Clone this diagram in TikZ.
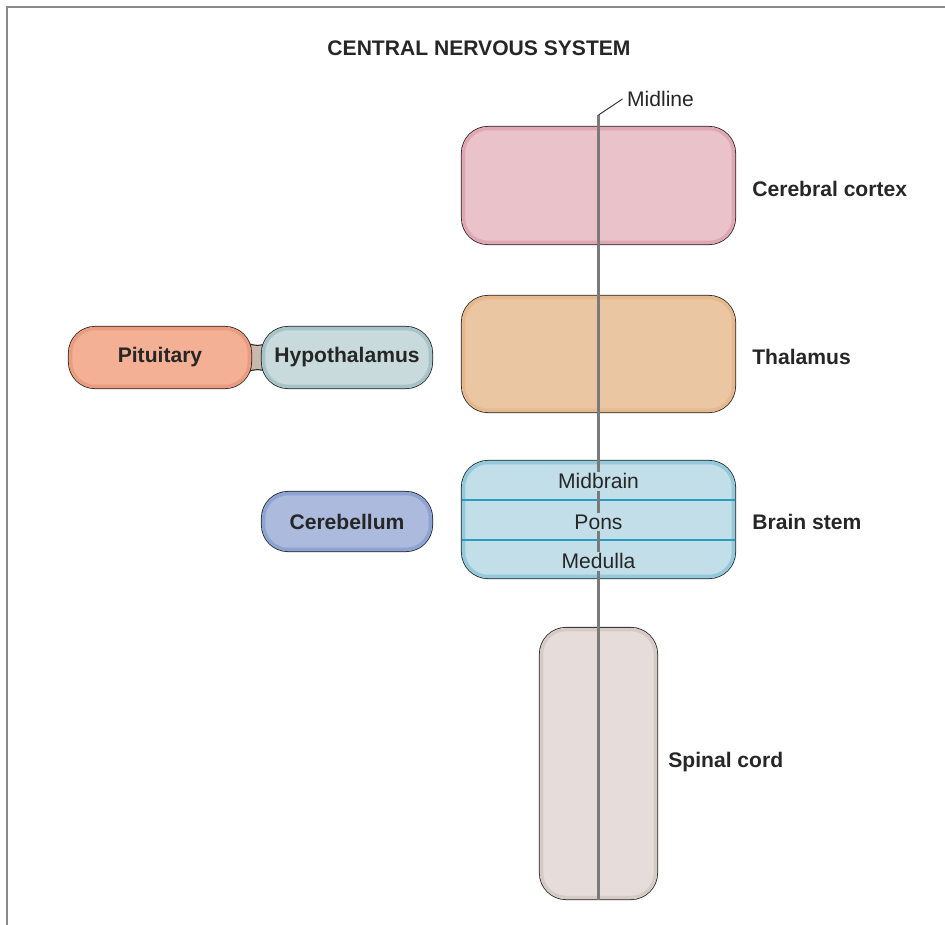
\documentclass[tikz,border=0pt]{standalone}
\usepackage{fontspec}
\setmainfont{Liberation Sans}
\usetikzlibrary{calc}

\definecolor{cortexfill}{HTML}{EAC3CA}
\definecolor{cortexrim}{HTML}{E0A6B1}
\definecolor{thalfill}{HTML}{EAC6A3}
\definecolor{thalrim}{HTML}{E6B88E}
\definecolor{stemfill}{HTML}{C2DFE9}
\definecolor{stemrim}{HTML}{92CADC}
\definecolor{stemline}{HTML}{2A9CC0}
\definecolor{spinefill}{HTML}{E6DDDA}
\definecolor{spinerim}{HTML}{D6CAC6}
\definecolor{pitfill}{HTML}{F3B094}
\definecolor{pitrim}{HTML}{EC9C7E}
\definecolor{hypofill}{HTML}{C8DADC}
\definecolor{hyporim}{HTML}{A6C3C8}
\definecolor{cerebfill}{HTML}{ABBADD}
\definecolor{cerebrim}{HTML}{8DA3D2}
\definecolor{neckleft}{HTML}{D8AE9A}
\definecolor{neckright}{HTML}{B9C4C3}
\definecolor{framegray}{HTML}{8A8A8A}
\definecolor{midgray}{HTML}{7A7A7A}

\begin{document}
\begin{tikzpicture}[
    font=\fontsize{12}{14}\selectfont,
    organ/.style={rectangle, rounded corners=14pt, draw=#1rim, line width=2pt,
                  preaction={draw=black!85, line width=2.9pt},
                  fill=#1fill, inner sep=0pt, align=center, text=black!85},
    pill/.style ={organ=#1, font=\fontsize{12}{14}\selectfont\bfseries},
    lbl/.style  ={font=\fontsize{12}{14}\selectfont\bfseries, text=black!85, anchor=west, inner sep=0pt},
    sub/.style  ={fill=stemfill, inner sep=1pt, text=black!85},
    divider/.style={draw=stemline, line width=0.8pt},
    midline/.style={draw=midgray, line width=1.3pt}
  ]
  \useasboundingbox (0,0) rectangle (18.9,-18.5);
  % --- frame ---
  \draw[framegray, line width=1.1pt] (0.14,-18.6) -- (0.14,-0.14) -- (19,-0.14);
  \node[lbl, anchor=center] (title) at (9.58,-0.96) {CENTRAL NERVOUS SYSTEM};
  % --- neck between pituitary and hypothalamus ---
  \fill[left color=neckleft, right color=neckright]
    (4.75,-6.72) .. controls (5.0,-6.97) and (5.3,-6.97) .. (5.55,-6.72) --
    (5.55,-7.58) .. controls (5.3,-7.33) and (5.0,-7.33) .. (4.75,-7.58) -- cycle;
  \draw[black!85, line width=0.6pt] (4.75,-6.72) .. controls (5.0,-6.97) and (5.3,-6.97) .. (5.55,-6.72);
  \draw[black!85, line width=0.6pt] (4.75,-7.58) .. controls (5.0,-7.33) and (5.3,-7.33) .. (5.55,-7.58);
  % --- organs ---
  \node[organ=cortex, minimum width=5.4cm, minimum height=2.28cm] (cortex) at (11.97,-3.71) {};
  \node[organ=thal,   minimum width=5.4cm, minimum height=2.26cm] (thal)   at (11.97,-7.08) {};
  \node[organ=stem,   minimum width=5.4cm, minimum height=2.28cm] (stem)   at (11.97,-10.39) {};
  \node[organ=spine,  minimum width=2.28cm, minimum height=5.36cm] (spine)  at (11.97,-15.27) {};
  \node[pill=pit,   minimum width=3.58cm, minimum height=1.16cm] (pit)   at (3.2,-7.15)  {Pituitary};
  \node[pill=hypo,  minimum width=3.34cm, minimum height=1.16cm] (hypo)  at (6.94,-7.15) {Hypothalamus};
  \node[pill=cereb, minimum width=3.34cm, minimum height=1.12cm] (cereb) at (6.94,-10.43) {Cerebellum};
  % --- brain stem parts ---
  \draw[divider] (stem.west |- 0,-10.0) -- (stem.east |- 0,-10.0);
  \draw[divider] (stem.west |- 0,-10.8) -- (stem.east |- 0,-10.8);
  % --- midline ---
  \coordinate (mtop) at (11.97,-2.3);
  \coordinate (mbot) at (11.97,-18.0);
  \coordinate (mknee) at (12.45,-1.98);
  \draw[midline] (mtop) -- (mbot);
  \draw[black!85, line width=0.5pt] (mtop) -- (mknee);
  \node[anchor=west, inner sep=1pt, text=black!85] (midlbl) at (12.5,-1.98) {Midline};
  \node[sub] (midbrain) at (11.97,-9.62)  {Midbrain};
  \node[sub] (pons)     at (11.97,-10.44) {Pons};
  \node[sub] (medulla)  at (11.97,-11.22) {Medulla};
  % --- labels ---
  \node[lbl] (cortexlbl) at (15.04,-3.78)  {Cerebral cortex};
  \node[lbl] (thallbl)   at (15.04,-7.14)  {Thalamus};
  \node[lbl] (stemlbl)   at (15.04,-10.44) {Brain stem};
  \node[lbl] (spinelbl)  at (13.36,-15.24) {Spinal cord};
\end{tikzpicture}
\end{document}
